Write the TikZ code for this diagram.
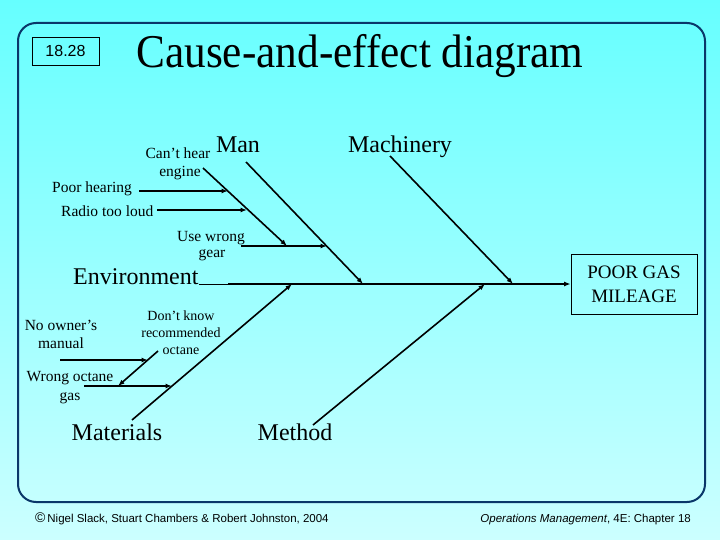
\documentclass[tikz,border=0pt]{standalone}
\usepackage{fontspec}
\setmainfont{Liberation Serif}
\newfontfamily\arialf{Liberation Sans}
\usetikzlibrary{arrows.meta}
\definecolor{topc}{RGB}{102,255,255}
\definecolor{botc}{RGB}{204,255,255}
\definecolor{framec}{RGB}{10,55,105}
\begin{document}
\begin{tikzpicture}[x=1pt,y=-1pt,
  bone/.style={line width=1.6pt},
  tip/.style={-{Latex[length=6.5pt,width=5pt]}},
  lbl/.style={inner sep=0pt, font=\fontsize{15.5}{16}\selectfont},
  sml/.style={inner sep=0pt, font=\fontsize{14}{15}\selectfont},
  big/.style={inner sep=0pt, font=\fontsize{24}{26}\selectfont},
  foot/.style={inner sep=0pt, font=\arialf\fontsize{11.5}{13}\selectfont}]
\useasboundingbox (0,0) rectangle (720,540);
\shade[top color=topc, bottom color=botc] (0,0) rectangle (720,540);
\draw[framec, line width=2pt, rounded corners=18pt] (18,23) rectangle (705,502);

% header
\node[draw, line width=0.6pt, minimum width=67pt, minimum height=28pt, inner sep=0pt,
      font=\arialf\fontsize{16}{17}\selectfont] (num) at (65.5,51) {18.28};
\node[inner sep=0pt, anchor=base, font=\fontsize{47}{50}\selectfont] (title) at (360,68)
  {\scalebox{0.92}[1]{Cause-and-effect diagram}};

% effect box
\node[draw, line width=0.8pt, minimum width=126pt, minimum height=60pt, align=center,
      inner sep=0pt, font=\fontsize{19}{24}\selectfont] (effect) at (634,284)
  {POOR GAS\\MILEAGE};

% category labels
\node[big, anchor=base] (man) at (238,153) {Man};
\node[big, anchor=base] (mach) at (400,153) {Machinery};
\node[big, anchor=base west] (env) at (73,284) {Environment};
\node[big, anchor=base] (mat) at (117,440) {Materials};
\node[big, anchor=base] (meth) at (295,440) {Method};

% cause labels
\node[lbl, anchor=base] (canthear) at (178,159) {Can't hear};
\node[lbl, anchor=base] (engine) at (180,177) {engine};
\node[lbl, anchor=base west] (poor) at (52,193) {Poor hearing};
\node[lbl, anchor=base west] (radio) at (61,216) {Radio too loud};
\node[lbl, anchor=base west] (usewrong) at (177,241) {Use wrong};
\node[lbl, anchor=base] (gear) at (212,258) {gear};
\node[lbl, anchor=base] (noowner) at (61,330) {No owner's};
\node[lbl, anchor=base] (manual) at (61,348) {manual};
\node[sml, anchor=base] (dontknow) at (181,320) {Don't know};
\node[sml, anchor=base] (recom) at (181,337) {recommended};
\node[sml, anchor=base] (octane) at (181,354) {octane};
\node[lbl, anchor=base] (wrongoct) at (70,381) {Wrong octane};
\node[lbl, anchor=base] (gas) at (70,400) {gas};

% coordinates
\coordinate (spineS) at (228,284);
\coordinate (manS) at (246,162);   \coordinate (manE) at (363,284);
\coordinate (machS) at (390,156);  \coordinate (machE) at (513,284);
\coordinate (matS) at (132,420);   \coordinate (matE) at (292,284);
\coordinate (methS) at (313,425);  \coordinate (methE) at (485,284);
\coordinate (chS) at (203,168);    \coordinate (chE) at (287,246);
\coordinate (uwS) at (241,246);    \coordinate (uwE) at (327,246);
\coordinate (phS) at (139,191);    \coordinate (phE) at (228,191);
\coordinate (rlS) at (157,210);    \coordinate (rlE) at (247,210);
\coordinate (woS) at (84,386);     \coordinate (woE) at (172,386);
\coordinate (dkS) at (158,351);    \coordinate (dkE) at (118,386);
\coordinate (noS) at (60,360);     \coordinate (noE) at (148,360);

% spine
\draw[line width=0.6pt] (env.base east) -- (spineS);
\draw[bone, tip] (spineS) -- (effect.west);

% main bones
\draw[bone, tip] (manS) -- (manE);
\draw[bone, tip] (machS) -- (machE);
\draw[bone, tip] (matS) -- (matE);
\draw[bone, tip] (methS) -- (methE);

% sub-bones
\draw[bone, tip] (chS) -- (chE);
\draw[bone, tip] (uwS) -- (uwE);
\draw[bone, tip] (phS) -- (phE);
\draw[bone, tip] (rlS) -- (rlE);
\draw[bone, tip] (woS) -- (woE);
\draw[bone, tip] (dkS) -- (dkE);
\draw[bone, tip] (noS) -- (noE);

% footer
\node[foot, anchor=base west] (copy) at (35,522) {{\fontsize{14}{14}\selectfont\textcopyright}\,Nigel Slack, Stuart Chambers \& Robert Johnston, 2004};
\node[foot, anchor=base east] (book) at (691,522) {\textit{Operations Management}, 4E: Chapter 18};
\end{tikzpicture}
\end{document}
